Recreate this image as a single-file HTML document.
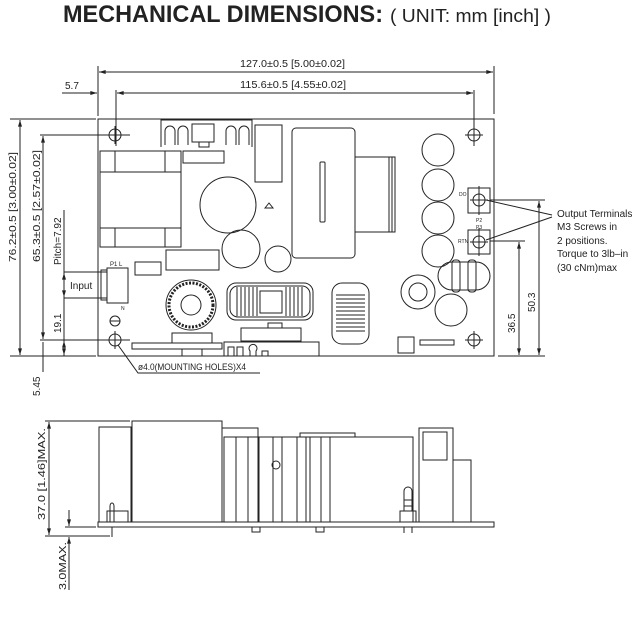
<!DOCTYPE html>
<html><head><meta charset="utf-8"><style>
html,body{margin:0;padding:0;background:#fff;}
svg{display:block;}
text{font-family:"Liberation Sans",sans-serif;fill:#222;}
</style></head><body>
<svg width="640" height="640" viewBox="0 0 640 640" xmlns="http://www.w3.org/2000/svg">
<defs><marker id="a" viewBox="0 0 10 6" refX="10" refY="3" markerWidth="8" markerHeight="4" orient="auto-start-reverse"><path d="M0,0L10,3L0,6z" fill="#222"/></marker></defs>
<text x="63" y="22" font-size="24" font-weight="bold" textLength="320" lengthAdjust="spacingAndGlyphs">MECHANICAL DIMENSIONS:</text>
<text x="390" y="22" font-size="18" textLength="161" lengthAdjust="spacingAndGlyphs">( UNIT: mm [inch] )</text>
<g stroke="#222" stroke-width="1" fill="none">
<line x1="98" y1="66" x2="98" y2="116"/><line x1="494" y1="66" x2="494" y2="114"/>
<line x1="99" y1="72" x2="493" y2="72" marker-start="url(#a)" marker-end="url(#a)"/>
<line x1="116" y1="90" x2="116" y2="146"/><line x1="474" y1="90" x2="474" y2="146"/>
<line x1="117" y1="93" x2="473" y2="93" marker-end="url(#a)"/>
<line x1="117" y1="93" x2="125" y2="93" marker-start="url(#a)"/>
<line x1="62" y1="93" x2="97" y2="93" marker-end="url(#a)"/>
<rect x="98" y="119" width="396" height="237"/>
<line x1="10" y1="119" x2="96" y2="119"/><line x1="10" y1="356" x2="96" y2="356"/>
<line x1="20" y1="120" x2="20" y2="355" marker-start="url(#a)" marker-end="url(#a)"/>
<line x1="40" y1="135" x2="130" y2="135"/><line x1="40" y1="340" x2="130" y2="340"/>
<line x1="43" y1="136" x2="43" y2="339" marker-start="url(#a)" marker-end="url(#a)"/>
<line x1="43" y1="342" x2="43" y2="372"/>
<line x1="64" y1="210" x2="64" y2="356"/>
<line x1="64" y1="272" x2="107" y2="272"/><line x1="64" y1="298" x2="107" y2="298"/>
<line x1="64" y1="273" x2="64" y2="297" marker-start="url(#a)" marker-end="url(#a)"/>
<line x1="64" y1="341" x2="64" y2="355" marker-start="url(#a)" marker-end="url(#a)"/>
<g><circle cx="115" cy="135" r="6"/><line x1="115" y1="126" x2="115" y2="144"/><line x1="106" y1="135" x2="124" y2="135"/></g>
<g><circle cx="474" cy="135" r="6"/><line x1="474" y1="126" x2="474" y2="144"/><line x1="465" y1="135" x2="483" y2="135"/></g>
<g><circle cx="115" cy="340" r="6"/><line x1="115" y1="331" x2="115" y2="349"/><line x1="106" y1="340" x2="124" y2="340"/></g>
<g><circle cx="474" cy="340" r="6"/><line x1="474" y1="331" x2="474" y2="349"/><line x1="465" y1="340" x2="483" y2="340"/></g>
<circle cx="115" cy="321" r="5"/><line x1="110" y1="321" x2="120" y2="321"/>
<polyline points="118,345 138,373 260,373"/>
<path d="M161,147 L161,120 L252,120 L252,147"/>
<path d="M165,145 v-14 a5,5 0 0 1 10,0 v14 M178,145 v-14 a5,5 0 0 1 10,0 v14 M226,145 v-14 a5,5 0 0 1 10,0 v14 M239,145 v-14 a5,5 0 0 1 10,0 v14"/>
<rect x="192" y="124" width="22" height="18"/><rect x="199" y="142" width="10" height="5"/>
<rect x="183" y="151" width="41" height="12"/>
<rect x="255" y="125" width="27" height="57"/>
<rect x="100" y="151" width="81" height="96"/>
<line x1="100" y1="172" x2="181" y2="172"/><line x1="100" y1="228" x2="181" y2="228"/>
<line x1="115" y1="151" x2="115" y2="172"/><line x1="165" y1="151" x2="165" y2="172"/>
<line x1="115" y1="228" x2="115" y2="247"/><line x1="165" y1="228" x2="165" y2="247"/>
<circle cx="228" cy="205" r="28"/><circle cx="241" cy="249" r="19"/><circle cx="278" cy="259" r="13"/>
<path d="M265,208 l4,-5 l4,5z"/>
<rect x="166" y="250" width="53" height="20"/><rect x="135" y="262" width="26" height="13"/>
<rect x="107" y="268" width="21" height="35"/>
<rect x="101" y="270" width="6" height="30"/>
<circle cx="191" cy="305" r="22" stroke-dasharray="2,1.5" stroke-width="3"/><circle cx="191" cy="305" r="25"/><circle cx="191" cy="305" r="10"/>
<rect x="172" y="333" width="40" height="10"/>
<rect x="132" y="343" width="90" height="6"/>
<line x1="182" y1="349" x2="182" y2="356"/><line x1="202" y1="349" x2="202" y2="356"/>
<rect x="227" y="283" width="86" height="37" rx="9"/><rect x="230" y="286" width="80" height="31" rx="8"/>
<rect x="260" y="291" width="22" height="22"/>
<path d="M237,287v29M241,287v29M245,287v29M249,287v29M253,287v29M257,287v29M286,287v29M290,287v29M294,287v29M298,287v29M302,287v29"/>
<rect x="241" y="328" width="60" height="13"/><rect x="268" y="323" width="14" height="5"/>
<path d="M224,356v-14h95v14 M228,356v-9h6v9 M237,356v-9h6v9 M250,356v-5a4,4 0 1 1 6,0v5 M262,356v-5h6v5"/>
<rect x="332" y="283" width="37" height="61" rx="10"/>
<path d="M336,295h29M336,299h29M336,303h29M336,307h29M336,311h29M336,315h29M336,319h29M336,323h29M336,327h29M336,331h29"/>
<rect x="292" y="128" width="63" height="130" rx="4"/>
<rect x="320" y="162" width="5" height="60" rx="1"/>
<rect x="355" y="157" width="40" height="75"/><line x1="389" y1="157" x2="389" y2="232"/><line x1="392" y1="157" x2="392" y2="232"/>
<circle cx="438" cy="150" r="16"/><circle cx="438" cy="185" r="16"/><circle cx="438" cy="218" r="16"/><circle cx="438" cy="251" r="16"/>
<rect x="468" y="188" width="22" height="25"/><circle cx="479" cy="200" r="6"/><line x1="479" y1="186" x2="479" y2="215"/><line x1="470" y1="200" x2="488" y2="200"/>
<rect x="468" y="230" width="22" height="24"/><circle cx="479" cy="242" r="6"/><line x1="479" y1="228" x2="479" y2="256"/><line x1="470" y1="242" x2="488" y2="242"/>
<rect x="438" y="262" width="52" height="28" rx="14"/><rect x="452" y="260" width="8" height="32" rx="3"/><rect x="468" y="260" width="8" height="32" rx="3"/>
<circle cx="418" cy="292" r="17"/><circle cx="418" cy="292" r="9"/><circle cx="451" cy="310" r="16"/>
<rect x="398" y="337" width="16" height="16"/><rect x="420" y="340" width="34" height="5"/>
<line x1="486" y1="200" x2="552" y2="215"/><line x1="486" y1="240" x2="552" y2="217"/>
<line x1="490" y1="200" x2="545" y2="200"/><line x1="490" y1="241" x2="525" y2="241"/>
<line x1="498" y1="356" x2="545" y2="356"/>
<line x1="539" y1="201" x2="539" y2="355" marker-start="url(#a)" marker-end="url(#a)"/>
<line x1="519" y1="242" x2="519" y2="355" marker-start="url(#a)" marker-end="url(#a)"/>
<rect x="98" y="522" width="396" height="5"/>
<rect x="99" y="427" width="32" height="95"/>
<rect x="132" y="421" width="90" height="101"/>
<path d="M222,428h36v94"/><rect x="224" y="437" width="82" height="85"/>
<path d="M236,437v85M248,437v85M259,437v85M273,437v85M282,437v85M297,437v85"/>
<circle cx="276" cy="465" r="4"/>
<rect x="300" y="433" width="55" height="4"/>
<rect x="306" y="437" width="107" height="85"/>
<path d="M310,437v85M321,437v85M330,437v85"/>
<rect x="419" y="428" width="34" height="94"/><rect x="423" y="432" width="24" height="28"/>
<rect x="453" y="460" width="18" height="62"/>
<rect x="107" y="511" width="21" height="11"/>
<path d="M110,522v-16 a2,3 0 0 1 4,0 v16 M112,527v10"/>
<rect x="400" y="511" width="16" height="11"/><path d="M404,511v-20a4,4 0 0 1 8,0v20M404,500h8M404,506h8M404,527v6M412,527v6"/>
<rect x="252" y="527" width="8" height="5"/><rect x="316" y="527" width="8" height="5"/>
<line x1="45" y1="421" x2="130" y2="421"/><line x1="45" y1="536" x2="110" y2="536"/>
<line x1="49" y1="422" x2="49" y2="535" marker-start="url(#a)" marker-end="url(#a)"/>
<line x1="65" y1="527" x2="96" y2="527"/>
<line x1="69" y1="510" x2="69" y2="526" marker-end="url(#a)"/>
<line x1="69" y1="590" x2="69" y2="537" marker-end="url(#a)"/>
</g>
<g font-size="10">
<text x="240" y="67" textLength="105" lengthAdjust="spacingAndGlyphs">127.0±0.5  [5.00±0.02]</text>
<text x="240" y="88" textLength="106" lengthAdjust="spacingAndGlyphs">115.6±0.5  [4.55±0.02]</text>
<text x="65" y="89">5.7</text>
<text transform="translate(16,262) rotate(-90)" textLength="110" lengthAdjust="spacingAndGlyphs">76.2±0.5  [3.00±0.02]</text>
<text transform="translate(40,262) rotate(-90)" textLength="112" lengthAdjust="spacingAndGlyphs">65.3±0.5  [2.57±0.02]</text>
<text transform="translate(61,265) rotate(-90)">Pitch=7.92</text>
<text x="70" y="289">Input</text>
<text transform="translate(61,333) rotate(-90)">19.1</text>
<text transform="translate(40,396) rotate(-90)">5.45</text>
<text x="138" y="370" font-size="9.5" textLength="108" lengthAdjust="spacingAndGlyphs">ø4.0(MOUNTING HOLES)X4</text>
<text x="557" y="217">Output Terminals</text>
<text x="557" y="230">M3 Screws in</text>
<text x="557" y="244">2 positions.</text>
<text x="557" y="257">Torque to 3lb–in</text>
<text x="557" y="271">(30 cNm)max</text>
<text transform="translate(515,333) rotate(-90)">36.5</text>
<text transform="translate(535,312) rotate(-90)">50.3</text>
<text transform="translate(45,520) rotate(-90)" textLength="92" lengthAdjust="spacingAndGlyphs">37.0 [1.46]MAX.</text>
<text transform="translate(66,590) rotate(-90)" textLength="48" lengthAdjust="spacingAndGlyphs">3.0MAX.</text>
<text x="110" y="266" font-size="6">P1  L</text>
<text x="121" y="310" font-size="5">N</text>
<text x="459" y="196" font-size="5">DO</text>
<text x="476" y="222" font-size="5">P2</text>
<text x="476" y="229" font-size="5">P3</text>
<text x="458" y="243" font-size="5">RTN</text>
</g>
</svg>
</body></html>
